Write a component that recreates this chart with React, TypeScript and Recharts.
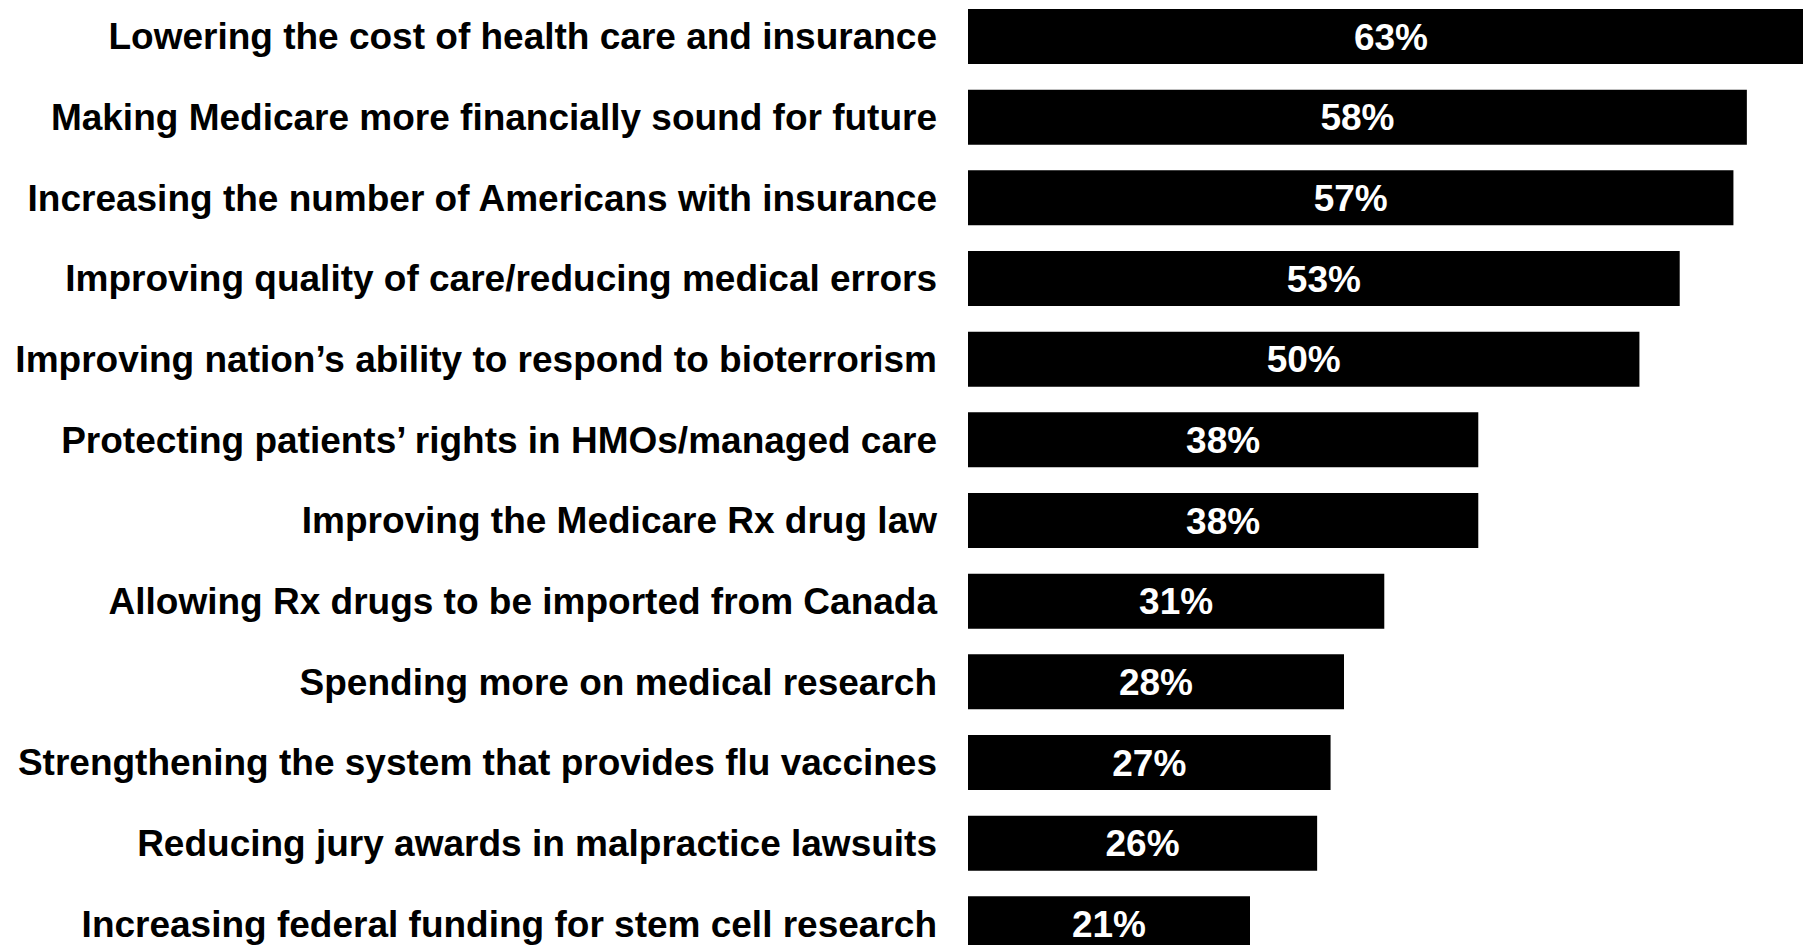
import { BarChart, Bar, XAxis, YAxis, LabelList } from 'recharts';

const issues = [
  'Lowering the cost of health care and insurance',
  'Making Medicare more financially sound for future',
  'Increasing the number of Americans with insurance',
  'Improving quality of care/reducing medical errors',
  'Improving nation\u2019s ability to respond to bioterrorism',
  'Protecting patients\u2019 rights in HMOs/managed care',
  'Improving the Medicare Rx drug law',
  'Allowing Rx drugs to be imported from Canada',
  'Spending more on medical research',
  'Strengthening the system that provides flu vaccines',
  'Reducing jury awards in malpractice lawsuits',
  'Increasing federal funding for stem cell research',
];

const shares = [63, 58, 57, 53, 50, 38, 38, 31, 28, 27, 26, 21];

const data = issues.map((name, i) => ({ name, value: shares[i] }));

const font = '"Liberation Sans", Arial, sans-serif';

export default function App() {
  return (
    <div style={{ position: 'absolute', left: 0, top: 0, width: 1803, height: 945, overflow: 'hidden', background: '#fff' }}>
      <div style={{ position: 'absolute', left: 0, top: -4 }}>
        <BarChart
          width={1908}
          height={968}
          data={data}
          layout="vertical"
          margin={{ top: 0, right: 0, bottom: 0, left: 0 }}
          barSize={55}
        >
          <XAxis type="number" domain={[0, 70]} hide />
          <YAxis
            type="category"
            dataKey="name"
            width={968}
            axisLine={false}
            tickLine={false}
            tickSize={0}
            tickMargin={31}
            interval={0}
            tick={{ fill: '#000', fontSize: 37, fontWeight: 'bold', fontFamily: font }}
          />
          <Bar dataKey="value" fill="#000" isAnimationActive={false}>
            <LabelList
              dataKey="value"
              position="center"
              formatter={(v: number) => `${v}%`}
              style={{ fill: '#fff', fontSize: 37, fontWeight: 'bold', fontFamily: font }}
            />
          </Bar>
        </BarChart>
      </div>
    </div>
  );
}
